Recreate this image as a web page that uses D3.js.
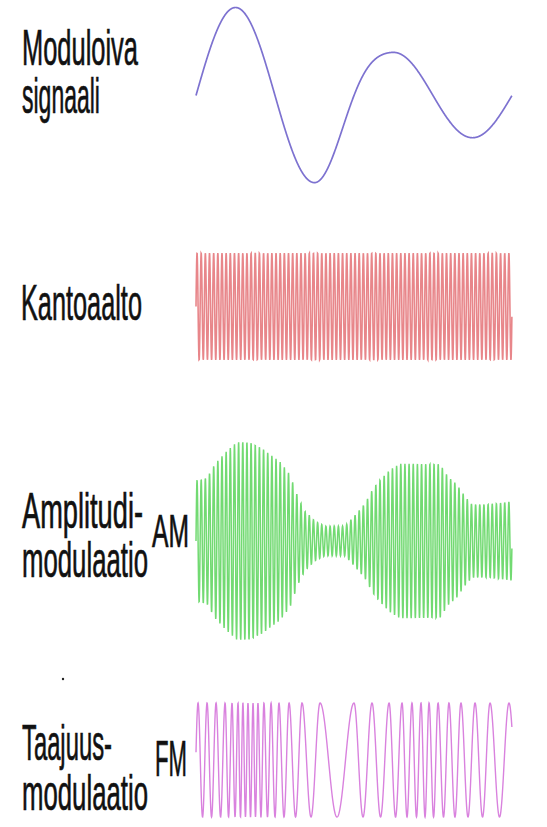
<!DOCTYPE html>
<html>
<head>
<meta charset="utf-8">
<script src="https://d3js.org/d3.v7.min.js"></script>
<style>
  body { margin: 0; background: #fff; }
  text { font-family: "Liberation Sans", Arial, sans-serif; fill: #111; stroke: #111; stroke-width: 0.7; }
</style>
</head>
<body>
<script>
//-----------------------------------------data-------------------------------------------

// time runs over two periods of the modulating signal (0..2)
var modPeakT = [0.25, 0.75, 1.25, 1.75];
var modPeakValue = [1.0, -0.99, 0.49, -0.48];

var carrierCycles = 38;

// AM envelope (relative to its largest swing)
var amEnvT = [0, 0.070, 0.120, 0.184, 0.259, 0.342, 0.418, 0.481, 0.532, 0.595, 0.646,
              0.690, 0.753, 0.816, 0.943, 1.006, 1.070, 1.120, 1.177, 1.228, 1.291,
              1.544, 1.595, 1.652, 1.703, 1.747, 1.861, 2.0];
var amEnvValue = [0.61, 0.64, 0.78, 0.89, 1.0, 1.0, 0.94, 0.86, 0.80, 0.67, 0.44,
                  0.30, 0.20, 0.15, 0.15, 0.26, 0.38, 0.53, 0.64, 0.72, 0.78,
                  0.78, 0.65, 0.57, 0.45, 0.37, 0.37, 0.40];

// FM: times of the wave crests
var fmPeakT = [0.070, 0.127, 0.184, 0.228, 0.266, 0.297, 0.329, 0.361, 0.392, 0.430,
               0.475, 0.525, 0.589, 0.671, 0.785, 1.000, 1.114, 1.222, 1.304, 1.367,
               1.424, 1.475, 1.532, 1.601, 1.677, 1.766, 1.861, 1.981];

var labels = [
  {text: "Moduloiva", x: 22, y: 65, w: 116},
  {text: "signaali", x: 22, y: 113, w: 78},
  {text: "Kantoaalto", x: 21, y: 320, w: 121},
  {text: "Amplitudi-", x: 22, y: 528, w: 121},
  {text: "modulaatio", x: 22, y: 577, w: 126},
  {text: "AM", x: 152, y: 547, w: 37, size: 46},
  {text: "Taajuus-", x: 22, y: 760, w: 90},
  {text: "modulaatio", x: 22, y: 810, w: 126},
  {text: "FM", x: 155, y: 776, w: 32, size: 50}
];

//-----------------------------------------SVG-------------------------------------------

var svg = d3.select("body")
          .append("svg")
          .attr("width", 547)
          .attr("height", 827);

var x = d3.scaleLinear().domain([0, 2]).range([196, 512]);

// amplitude of the modulating wave, eased between its crests
function modAmp(t) {
  if (t <= modPeakT[0]) return Math.abs(modPeakValue[0]);
  var n = modPeakT.length;
  if (t >= modPeakT[n - 1]) return Math.abs(modPeakValue[n - 1]);
  var i = d3.bisectRight(modPeakT, t) - 1;
  var u = (t - modPeakT[i]) / (modPeakT[i + 1] - modPeakT[i]);
  var a0 = Math.abs(modPeakValue[i]), a1 = Math.abs(modPeakValue[i + 1]);
  return a0 + (a1 - a0) * d3.easeSinInOut(u);
}
function mod(t) { return modAmp(t) * Math.sin(2 * Math.PI * t); }

var envelope = d3.scaleLinear().domain(amEnvT).range(amEnvValue);
var fmPhase = d3.scaleLinear().domain(fmPeakT).range(d3.range(fmPeakT.length));

var ts = d3.range(0, 2.0001, 0.0012);

var rows = [
  {cy: 95.5, amp: 88, color: "#7d72d0", width: 1.7,
   f: function(t) { return mod(t); }},
  {cy: 306.5, amp: 53.5, color: "#e8868a", width: 1.6,
   f: function(t) { return Math.sin(2 * Math.PI * carrierCycles * t); }},
  {cy: 541, amp: 99, color: "#72da72", width: 1.5,
   f: function(t) { return envelope(t) * Math.sin(2 * Math.PI * carrierCycles * t); }},
  {cy: 760, amp: 57, color: "#d982de", width: 1.4,
   f: function(t) { return Math.cos(2 * Math.PI * fmPhase(t)); }}
];

rows.forEach(function(r) {
  var y = d3.scaleLinear().domain([-1, 1]).range([r.cy + r.amp, r.cy - r.amp]);
  var line = d3.line()
      .x(function(t) { return x(t); })
      .y(function(t) { return y(r.f(t)); });
  svg.append("path")
      .attr("d", line(ts))
      .attr("fill", "none")
      .attr("stroke", r.color)
      .attr("stroke-width", r.width);
});

//-----------------------------------------labels-------------------------------------------

// squeeze each label to the width it has in the picture
svg.selectAll("text.label")
    .data(labels)
    .enter().append("text")
      .attr("class", "label")
      .attr("font-size", function(d) { return d.size || 50; })
      .text(function(d) { return d.text; })
      .attr("transform", function(d) {
        var natural = this.getComputedTextLength();
        return "translate(" + d.x + "," + d.y + ") scale(" + (d.w / natural) + ",1)";
      });

svg.append("circle")
    .attr("cx", 63)
    .attr("cy", 679)
    .attr("r", 1.2)
    .attr("fill", "#222");
</script>
</body>
</html>
